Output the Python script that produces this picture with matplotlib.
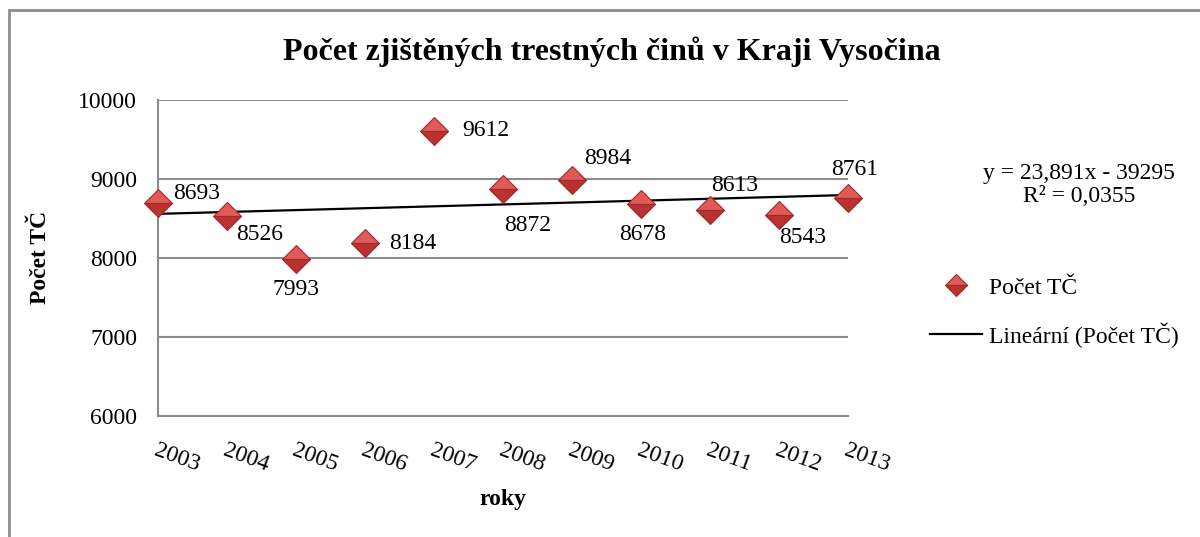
import matplotlib
matplotlib.use("Agg")
import matplotlib.pyplot as plt
import numpy as np
from matplotlib.lines import Line2D
from matplotlib.patches import Rectangle

# data
years = [2003, 2004, 2005, 2006, 2007, 2008, 2009, 2010, 2011, 2012, 2013]
pocet_tc = [8693, 8526, 7993, 8184, 9612, 8872, 8984, 8678, 8613, 8543, 8761]
# where each data label sits relative to its point (pixels)
label_offsets = [(39, 10), (33, -18), (0, -31), (48, 0), (52, 0), (25, -36),
                 (36, 22), (2, -30), (25, 24), (24, -22), (7, 28)]
y_ticks = [6000, 7000, 8000, 9000, 10000]

plt.rcParams['font.family'] = ['Liberation Serif', 'DejaVu Serif']

fig = plt.figure(figsize=(12, 5.37), dpi=100)
ax = fig.add_axes([158 / 1200, 1 - 416 / 537, 690 / 1200, 316 / 537])

# outer chart border (cut off at right/bottom like the source)
fig.patches.append(Rectangle((9 / 1200, -0.05), 1.1, 1 - 10 / 537 + 0.05,
                             transform=fig.transFigure, fill=False,
                             edgecolor='#8c8c8c', linewidth=2))

ax.set_xlim(years[0], years[-1])
ax.set_ylim(y_ticks[0], y_ticks[-1])
ax.set_yticks(y_ticks)
ax.yaxis.grid(True, color='#8c8c8c', linewidth=1.5)
ax.set_axisbelow(True)
for side in ['top', 'right']:
    ax.spines[side].set_visible(False)
for side in ['left', 'bottom']:
    ax.spines[side].set_color('#8c8c8c')
    ax.spines[side].set_linewidth(1.5)

ax.tick_params(axis='y', length=0, pad=15, labelsize=17)
ax.set_xticks(years)
ax.set_xticklabels([str(y) for y in years], rotation=-20, ha='left', va='top',
                   rotation_mode='anchor', fontsize=17)
ax.tick_params(axis='x', length=0, pad=17)

# linear trend
k, q = np.polyfit(years, pocet_tc, 1)
xs = np.array([years[0], years[-1]])
ax.plot(xs, k * xs + q, color='black', linewidth=1.6, zorder=3,
        clip_on=False)

ax.plot(years, pocet_tc, linestyle='none', marker='D', markersize=14,
        fillstyle='top', markerfacecolor='#e05a58',
        markerfacecoloralt='#b83232', markeredgecolor='#a02a2a',
        markeredgewidth=0.8, zorder=4, clip_on=False)

for x, v, (dx, dy) in zip(years, pocet_tc, label_offsets):
    ax.annotate(str(v), (x, v), xytext=(dx, dy), textcoords='offset pixels',
                ha='center', va='center', fontsize=17, zorder=5)

fig.text(612 / 1200, 1 - 52 / 537,
         'Počet zjištěných trestných činů v Kraji Vysočina',
         ha='center', va='center', fontsize=23, fontweight='bold')
fig.text(40 / 1200, 0.52, 'Počet TČ', rotation=90, ha='center', va='center',
         fontsize=17, fontweight='bold')
fig.text(503 / 1200, 1 - 500 / 537, 'roky', ha='center', va='center',
         fontsize=17, fontweight='bold')

fig.text(1079 / 1200, 1 - 174 / 537, 'y = 23,891x - 39295',
         ha='center', va='center', fontsize=17)
fig.text(1079 / 1200, 1 - 197 / 537, 'R² = 0,0355',
         ha='center', va='center', fontsize=17)

handles = [Line2D([], [], linestyle='none', marker='D', markersize=11,
                  fillstyle='top', markerfacecolor='#e05a58',
                  markerfacecoloralt='#b83232', markeredgecolor='#a02a2a',
                  markeredgewidth=0.8),
           Line2D([], [], color='black', linewidth=1.6)]
fig.legend(handles, ['Počet TČ', 'Lineární (Počet TČ)'], loc='upper left',
           bbox_to_anchor=(930 / 1200, 1 - 277 / 537), frameon=False,
           fontsize=17, handlelength=2.2, handletextpad=0.3,
           labelspacing=1.0, borderpad=0, borderaxespad=0)

fig.savefig('out.png', dpi=100)
